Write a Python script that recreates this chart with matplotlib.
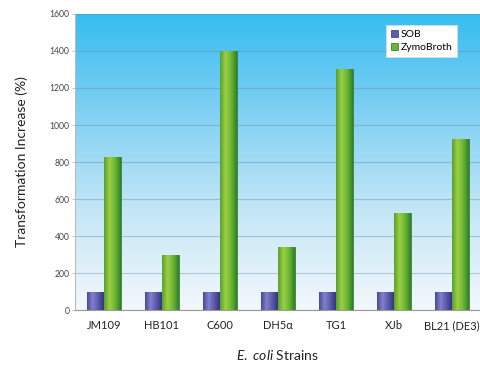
import numpy as np
import matplotlib
matplotlib.use('Agg')
import matplotlib.pyplot as plt
from matplotlib.colors import LinearSegmentedColormap

strains = ['JM109', 'HB101', 'C600', 'DH5\u03b1', 'TG1', 'XJb', 'BL21 (DE3)']
sob = [100, 100, 100, 100, 100, 100, 100]
zymo = [825, 300, 1400, 340, 1300, 525, 925]
yticks = [0, 200, 400, 600, 800, 1000, 1200, 1400, 1600]

plt.rcParams['font.family'] = ['Lato', 'DejaVu Sans']
plt.rcParams['mathtext.fontset'] = 'custom'
plt.rcParams['mathtext.rm'] = 'Lato'
plt.rcParams['mathtext.it'] = 'Lato:italic'

fig = plt.figure(figsize=(4.8, 3.67), dpi=100)
ax = fig.add_axes([0.156, 0.155, 0.846, 0.807])

# background gradient, white at bottom to sky blue at top
bg = LinearSegmentedColormap.from_list('bg', ['#f3f8fc', '#c4e6f6', '#80d0f3', '#35bdf0'])
grad = np.linspace(0, 1, 256).reshape(-1, 1)
ax.imshow(grad, cmap=bg, aspect='auto', origin='lower',
          extent=[-0.5, 6.5, 0, 1600], zorder=0)

x = np.arange(len(strains))
w = 0.29
b1 = ax.bar(x - w / 2, sob, w, color='#5c5cae', edgecolor='#34347a', linewidth=0.5,
            label='SOB', zorder=3)
b2 = ax.bar(x + w / 2, zymo, w, color='#6cb532', edgecolor='#2a6e28', linewidth=0.5,
            label='ZymoBroth', zorder=3)

# cylinder-like shading on each bar
shade_sob = LinearSegmentedColormap.from_list('s', ['#4a4a98', '#8080cc', '#5a5aaa', '#34347e'])
shade_zym = LinearSegmentedColormap.from_list('z', ['#5aa22c', '#9ccf45', '#6cb532', '#2f7f2c'])
hgrad = np.linspace(0, 1, 64).reshape(1, -1)
for bars, cm in [(b1, shade_sob), (b2, shade_zym)]:
    for p in bars:
        x0, y0 = p.get_x(), p.get_y()
        im = ax.imshow(hgrad, cmap=cm, aspect='auto',
                       extent=[x0, x0 + p.get_width(), y0, y0 + p.get_height()], zorder=3.5)
        im.set_clip_path(p)

ax.set_xlim(-0.5, 6.5)
ax.set_ylim(0, 1600)
ax.set_yticks(yticks)
ax.set_yticklabels([str(v) for v in yticks], fontsize=6.2, color='#444444')
ax.set_xticks(x)
ax.set_xticklabels(strains, fontsize=8, color='#222222')
ax.tick_params(axis='x', length=0, pad=7)
ax.tick_params(axis='y', length=2, width=0.5, color='#aaaaaa', pad=2)
ax.yaxis.grid(True, color='#5f8aa0', alpha=0.4, linewidth=0.8, zorder=1)
ax.set_axisbelow(True)

for s in ['top', 'right']:
    ax.spines[s].set_visible(False)
ax.spines['left'].set_color('#bbbbbb')
ax.spines['bottom'].set_color('#999999')
ax.spines['left'].set_linewidth(0.8)
ax.spines['bottom'].set_linewidth(0.8)

ax.set_ylabel('Transformation Increase (%)', fontsize=10, color='#222222', labelpad=15)
ax.set_xlabel(r'$\it{E.\ coli}$ Strains', fontsize=10, color='#222222', labelpad=12)

leg = ax.legend(loc='upper right', bbox_to_anchor=(0.955, 0.98), fontsize=7.5,
                frameon=True, fancybox=False, framealpha=1, handlelength=0.7,
                handleheight=0.7, handletextpad=0.3, borderpad=0.45, labelspacing=0.35)
leg.get_frame().set_edgecolor('#dddddd')
leg.get_frame().set_linewidth(0.5)

fig.savefig('out.png', dpi=100)
